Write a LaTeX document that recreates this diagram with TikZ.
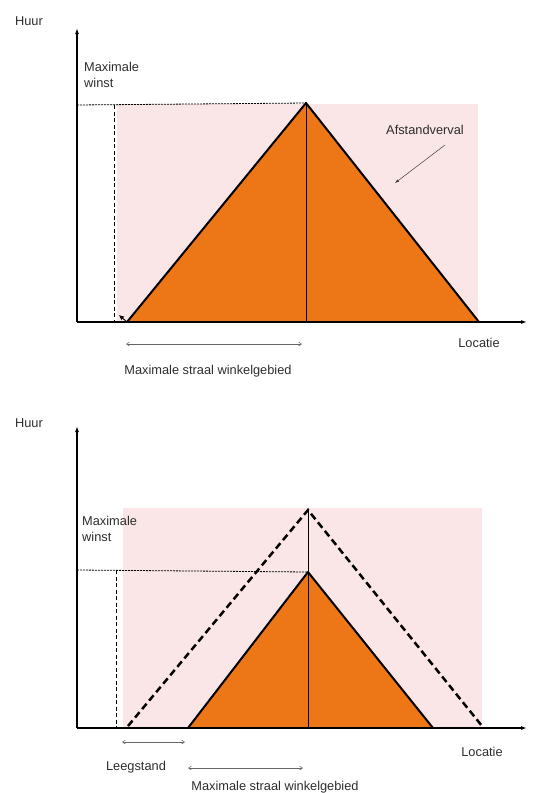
\documentclass[tikz,border=0pt]{standalone}
\usepackage{fontspec}
\setmainfont{Liberation Sans}
\usepackage{xcolor}
\usetikzlibrary{arrows.meta,positioning}

\definecolor{rentorange}{RGB}{237,119,22}
\definecolor{rentpink}{RGB}{250,229,231}
\definecolor{labelgray}{RGB}{45,45,45}

\begin{document}
\begin{tikzpicture}[x=1pt,y=-1pt,
        axis/.style={-{Latex[length=6pt,width=4pt]}, line width=1.7pt},
        edge/.style={line width=2pt, line join=round},
        oldedge/.style={line width=2.5pt, dash pattern=on 7pt off 4pt},
        guide/.style={line width=0.8pt, dash pattern=on 2pt off 1pt},
        vguide/.style={line width=0.8pt, dash pattern=on 4pt off 2.5pt},
        span/.style={{Straight Barb[length=3pt,width=4pt]}-{Straight Barb[length=3pt,width=4pt]}, draw=black!60, line width=0.5pt},
        pointer/.style={-{Latex[length=4pt,width=3pt]}, draw=black!75, line width=0.5pt},
        lbl/.style={font=\fontsize{12.8}{15.5}\selectfont, text=labelgray, inner sep=0pt, align=left}
    ]
        \useasboundingbox (0,0) rectangle (549,793);

        % ---------------- top panel ----------------
        % Points
        \coordinate (o1) at (77,322);
        \coordinate (y1) at (77,28);
        \coordinate (x1) at (527,322);
        \coordinate (topL) at (127,322);
        \coordinate (topP) at (306,103);
        \coordinate (topR) at (479,322);
        \coordinate (topB) at (306,322);
        \coordinate (h1) at (77,105);
        \coordinate (d1t) at (114,105);
        \coordinate (d1b) at (114,320);
        \coordinate (tip1) at (119,315);

        % Background
        \fill[rentpink] (117,104) rectangle (478,322);

        % Rent triangle
        \fill[rentorange] (topL) -- (topP) -- (topR) -- cycle;
        \draw[edge] (topL) -- (topP) -- (topR);
        \draw[line width=0.7pt] (topP) -- (topB);

        % Guides
        \draw[guide] (h1) -- (topP);
        \draw[vguide] (d1t) -- (d1b);
        \draw[-{Latex[length=5pt,width=5pt]}, line width=0.9pt] (topL) -- (tip1);

        % Axes
        \draw[axis] (o1) -- (y1);
        \draw[axis] (o1) -- (x1);

        % Labels
        \node[lbl] (huur1) at (29,21) {Huur};
        \node[lbl, anchor=west] (winst1) at (84,75) {Maximale\\winst};
        \node[lbl] (afst) at (425,130) {Afstandverval};
        \node[lbl] (loc1) at (479,343) {Locatie};
        \node[lbl] (straal1) at (208,371) {Maximale straal winkelgebied};

        \coordinate (afsS) at (445,145);
        \coordinate (afsE) at (395,183);
        \draw[pointer] (afsS) -- (afsE);

        \coordinate (sp1a) at (126,344);
        \coordinate (sp1b) at (302,344);
        \draw[span] (sp1a) -- (sp1b);

        % ---------------- bottom panel ----------------
        % Points
        \coordinate (o2) at (77,728);
        \coordinate (y2) at (77,426);
        \coordinate (x2) at (527,728);
        \coordinate (oldL) at (128,726);
        \coordinate (oldP) at (308,510);
        \coordinate (oldR) at (482,726);
        \coordinate (newL) at (188,728);
        \coordinate (newP) at (308,572);
        \coordinate (newR) at (433,728);
        \coordinate (newB) at (308,728);
        \coordinate (h2) at (77,570);
        \coordinate (d2t) at (116,570);
        \coordinate (d2b) at (116,727);

        % Background
        \fill[rentpink] (123,508) rectangle (482,728);

        % Rent triangle, now smaller
        \fill[rentorange] (newL) -- (newP) -- (newR) -- cycle;
        \draw[edge] (newL) -- (newP) -- (newR);

        % Old triangle
        \draw[oldedge] (oldL) -- (oldP) -- (oldR);
        \draw[line width=0.8pt] (oldP) -- (newB);

        % Guides
        \draw[guide] (h2) -- (newP);
        \draw[vguide] (d2t) -- (d2b);

        % Axes
        \draw[axis] (o2) -- (y2);
        \draw[axis] (o2) -- (x2);

        % Labels
        \node[lbl] (huur2) at (29,423) {Huur};
        \node[lbl, anchor=west] (winst2) at (82,529) {Maximale\\winst};
        \node[lbl] (loc2) at (482,752) {Locatie};
        \node[lbl] (leeg) at (136,767) {Leegstand};
        \node[lbl] (straal2) at (275,787) {Maximale straal winkelgebied};

        \coordinate (sp2a) at (122,742);
        \coordinate (sp2b) at (185,742);
        \draw[span] (sp2a) -- (sp2b);
        \coordinate (sp3a) at (188,768);
        \coordinate (sp3b) at (303,768);
        \draw[span] (sp3a) -- (sp3b);
    \end{tikzpicture}
\end{document}
